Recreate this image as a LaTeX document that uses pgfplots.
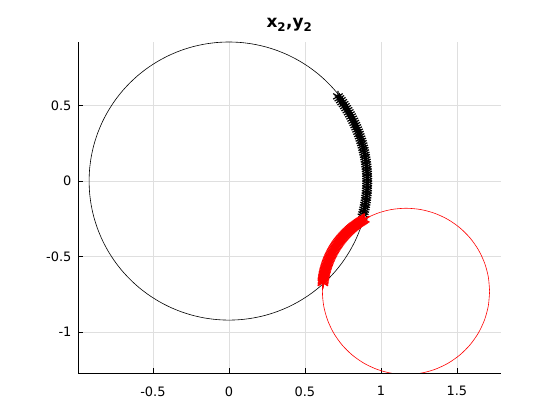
\documentclass[border=0pt]{standalone}
\usepackage{pgfplots}
\pgfplotsset{compat=1.18}
\usepackage{fontspec}
\setmainfont{DejaVu Sans}
\begin{document}
\begin{tikzpicture}
\begin{axis}[
  at={(0,0)}, anchor=south west,
  scale only axis, width=423bp, height=331bp,
  xmin=-0.993, xmax=1.79, ymin=-1.27, ymax=0.92,
  axis lines*=left,
  axis line style={black, line width=0.6bp},
  grid=major, grid style={gray!25, line width=0.5bp},
  tick align=inside, major tick length=5bp,
  tick style={black, line width=0.5bp},
  xtick={-0.5,0,0.5,1,1.5}, ytick={-1,-0.5,0,0.5},
  tick label style={font=\fontsize{13}{15}\selectfont},
  xticklabel style={yshift=-10bp},
  yticklabel style={xshift=-3bp},
  /pgf/number format/assume math mode=true,
  title={\fontsize{17}{19}\selectfont\textbf{x\textsubscript{\raisebox{-1.5bp}{2}},y\textsubscript{\raisebox{-1.5bp}{2}}}},
  title style={yshift=1bp},
]
% black circle
\addplot[black, line width=0.6bp, smooth] coordinates {
(0.92,0)(0.9165,0.0802)(0.9060,0.1598)(0.8887,0.2381)(0.8645,0.3147)(0.8338,0.3888)(0.7967,0.46)(0.7536,0.5277)(0.7048,0.5914)(0.6505,0.6505)(0.5914,0.7048)(0.5277,0.7536)(0.46,0.7967)(0.3888,0.8338)(0.3147,0.8645)(0.2381,0.8887)(0.1598,0.9060)(0.0802,0.9165)(0,0.92)
(-0.0802,0.9165)(-0.1598,0.9060)(-0.2381,0.8887)(-0.3147,0.8645)(-0.3888,0.8338)(-0.46,0.7967)(-0.5277,0.7536)(-0.5914,0.7048)(-0.6505,0.6505)(-0.7048,0.5914)(-0.7536,0.5277)(-0.7967,0.46)(-0.8338,0.3888)(-0.8645,0.3147)(-0.8887,0.2381)(-0.9060,0.1598)(-0.9165,0.0802)(-0.92,0)
(-0.9165,-0.0802)(-0.9060,-0.1598)(-0.8887,-0.2381)(-0.8645,-0.3147)(-0.8338,-0.3888)(-0.7967,-0.46)(-0.7536,-0.5277)(-0.7048,-0.5914)(-0.6505,-0.6505)(-0.5914,-0.7048)(-0.5277,-0.7536)(-0.46,-0.7967)(-0.3888,-0.8338)(-0.3147,-0.8645)(-0.2381,-0.8887)(-0.1598,-0.9060)(-0.0802,-0.9165)(0,-0.92)
(0.0802,-0.9165)(0.1598,-0.9060)(0.2381,-0.8887)(0.3147,-0.8645)(0.3888,-0.8338)(0.46,-0.7967)(0.5277,-0.7536)(0.5914,-0.7048)(0.6505,-0.6505)(0.7048,-0.5914)(0.7536,-0.5277)(0.7967,-0.46)(0.8338,-0.3888)(0.8645,-0.3147)(0.8887,-0.2381)(0.9060,-0.1598)(0.9165,-0.0802)(0.92,0)
};
% red circle
\addplot[red, line width=0.6bp, smooth] coordinates {
(1.715,-0.73)(1.7066,-0.6345)(1.6818,-0.5419)(1.6413,-0.455)(1.5863,-0.3765)(1.5185,-0.3087)(1.44,-0.2537)(1.3531,-0.2132)(1.2605,-0.1884)
(1.165,-0.18)(1.0695,-0.1884)(0.9769,-0.2132)(0.89,-0.2537)(0.8115,-0.3087)(0.7437,-0.3765)(0.6887,-0.455)(0.6482,-0.5419)(0.6234,-0.6345)
(0.615,-0.73)(0.6234,-0.8255)(0.6482,-0.9181)(0.6887,-1.005)(0.7437,-1.0835)(0.8115,-1.1513)(0.89,-1.2063)(0.9769,-1.2468)(1.0695,-1.2716)
(1.165,-1.28)(1.2605,-1.2716)(1.3531,-1.2468)(1.44,-1.2063)(1.5185,-1.1513)(1.5863,-1.0835)(1.6413,-1.005)(1.6818,-0.9181)(1.7066,-0.8255)(1.715,-0.73)
};
% black markers
\addplot[only marks, black, mark=asterisk, mark size=5.5bp, mark options={line width=1.2bp}] coordinates {
(0.7171,0.5603)(0.7267,0.5476)(0.7362,0.5349)(0.7453,0.5219)(0.7544,0.5089)(0.7631,0.4956)(0.7717,0.4822)(0.7799,0.4686)(0.7881,0.455)(0.7958,0.4411)
(0.8034,0.4272)(0.8107,0.4131)(0.8179,0.3989)(0.8246,0.3845)(0.8313,0.3701)(0.8376,0.3555)(0.8438,0.3409)(0.8495,0.3261)(0.8551,0.3112)(0.8603,0.2962)
(0.8655,0.2812)(0.8702,0.2660)(0.8748,0.2508)(0.8789,0.2355)(0.8830,0.2201)(0.8866,0.2047)(0.8901,0.1892)(0.8932,0.1736)(0.8962,0.1580)(0.8987,0.1424)
(0.9012,0.1267)(0.9031,0.1109)(0.9050,0.0951)(0.9064,0.0793)(0.9078,0.0635)(0.9087,0.0477)(0.9095,0.0318)(0.9098,0.0159)(0.91,0)
(0.9098,-0.0159)(0.9095,-0.0318)(0.9087,-0.0477)(0.9078,-0.0635)(0.9064,-0.0793)(0.9050,-0.0951)(0.9031,-0.1109)(0.9012,-0.1267)(0.8987,-0.1424)
(0.8962,-0.1580)(0.8932,-0.1736)(0.8901,-0.1892)(0.8866,-0.2047)(0.8830,-0.2201)(0.8790,-0.2355)
};
% red markers
\addplot[only marks, red, mark=asterisk, mark size=6bp, mark options={line width=1.5bp}] coordinates {
(0.890,-0.2537)(0.8818,-0.2587)(0.8736,-0.2636)(0.8655,-0.2688)(0.8574,-0.2740)(0.8496,-0.2795)(0.8417,-0.2850)(0.8341,-0.2908)(0.8264,-0.2966)(0.8190,-0.3027)
(0.8115,-0.3087)(0.8043,-0.3150)(0.7970,-0.3213)(0.7900,-0.3279)(0.7829,-0.3344)(0.7762,-0.3412)(0.7694,-0.3479)(0.7629,-0.3550)(0.7563,-0.3620)(0.7500,-0.3693)
(0.7437,-0.3765)(0.7377,-0.3840)(0.7316,-0.3914)(0.7258,-0.3991)(0.7200,-0.4067)(0.7145,-0.4146)(0.7090,-0.4224)(0.7038,-0.4305)(0.6986,-0.4386)(0.6937,-0.4468)
(0.6887,-0.455)(0.6841,-0.4634)(0.6794,-0.4718)(0.6751,-0.4804)(0.6707,-0.4889)(0.6667,-0.4976)(0.6626,-0.5063)(0.6588,-0.5152)(0.6550,-0.5240)(0.6516,-0.5330)
(0.6482,-0.5419)(0.6451,-0.5510)(0.6419,-0.5600)(0.6391,-0.5692)(0.6363,-0.5784)(0.6338,-0.5877)(0.6313,-0.5970)(0.6292,-0.6064)(0.6270,-0.6157)(0.6252,-0.6251)
(0.6234,-0.6345)(0.6219,-0.6440)(0.6203,-0.6534)(0.6192,-0.6630)(0.6180,-0.6725)
};
\end{axis}
\pgfresetboundingbox
\path (-78bp,-47bp) rectangle (482bp,373bp);
\end{tikzpicture}
\end{document}
